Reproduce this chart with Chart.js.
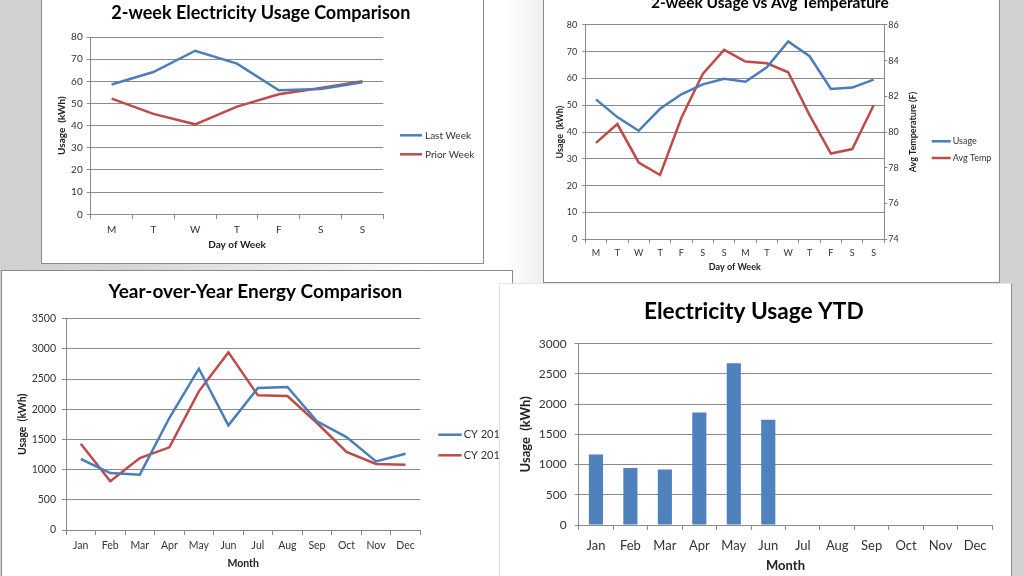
<!DOCTYPE html>
<html>
<head>
<meta charset="utf-8">
<title>Electricity usage charts</title>
<script src="https://cdn.jsdelivr.net/npm/chart.js@4.4.1/dist/chart.umd.min.js"></script>
<style>
  html, body { margin: 0; padding: 0; }
  body {
    width: 1024px; height: 576px; overflow: hidden; position: relative;
    background: linear-gradient(to right, #d1d1d1 0px, #d4d4d4 120px, #ffffff 430px, #ffffff 505px, #efefef 543px, #efefef 998px, #d1d1d1 999px);
  }
  .panel { position: absolute; box-sizing: border-box; border: 1px solid #8a8a8a; background: #fff; }
  .panel canvas { display: block; }
  #p4 { border-color: #e4e4e4 #8a8a8a #8a8a8a #e4e4e4; z-index: 2; }
</style>
</head>
<body>
<div class="panel" id="p1" style="left:41px;top:-1px;width:443px;height:265px"><canvas id="c1" width="441" height="263"></canvas></div>
<div class="panel" id="p2" style="left:543px;top:-20px;width:457px;height:303px"><canvas id="c2" width="455" height="301"></canvas></div>
<div class="panel" id="p3" style="left:1px;top:270px;width:512px;height:320px"><canvas id="c3" width="510" height="309"></canvas></div>
<div class="panel" id="p4" style="left:499px;top:283px;width:513px;height:310px"><canvas id="c4" width="511" height="300"></canvas></div>

<script>
// ——— DATA ———
const days = ['M', 'T', 'W', 'T', 'F', 'S', 'S'];
const lastWeek = [58.6, 64.2, 73.8, 68, 56, 56.5, 59.6];
const priorWeek = [52.2, 45.3, 40.6, 48.6, 54.2, 57, 60];

const days2wk = ['M', 'T', 'W', 'T', 'F', 'S', 'S', 'M', 'T', 'W', 'T', 'F', 'S', 'S'];
const usage2wk = [52.2, 45.6, 40.5, 48.7, 54.1, 57.8, 59.9, 58.8, 64.2, 73.8, 68.3, 56.1, 56.6, 59.6];
const avgTemp = [79.4, 80.45, 78.3, 77.6, 80.8, 83.25, 84.6, 83.95, 83.85, 83.35, 80.95, 78.8, 79.05, 81.5];

const months = ['Jan', 'Feb', 'Mar', 'Apr', 'May', 'Jun', 'Jul', 'Aug', 'Sep', 'Oct', 'Nov', 'Dec'];
const cy2014 = [1176, 944, 916, 1855, 2672, 1733, 2352, 2368, 1800, 1540, 1137, 1264];
const cy2013 = [1430, 806, 1192, 1369, 2297, 2942, 2230, 2219, 1772, 1292, 1093, 1082];
const ytd = [1167, 942, 920, 1861, 2676, 1740, null, null, null, null, null, null];

// ——— STYLE ———
const BLUE = '#4a7ebb', RED = '#be4b48', BAR = '#4f81bd', GRID = '#8a8a8a', INK = '#333';
Chart.defaults.font.family = 'Lato';
Chart.defaults.color = INK;
Chart.defaults.animation = false;

function font(size, bold) { return { family: 'Lato', size: size, weight: bold ? 'bold' : 'normal' }; }

// keep the title centred on the whole canvas, not just left of the legend gap
const centerTitle = {
    id: 'centerTitle',
    afterLayout(chart) {
        const t = chart.titleBlock;
        if (!t) return;
        t.left = 0;
        t.right = chart.width - 3.4;
        t.width = t.right - t.left;
    }
};
Chart.register(centerTitle);

// legend drawn as short line + label, Excel style
const lineLegend = {
    id: 'lineLegend',
    afterDraw(chart, args, o) {
        const ctx = chart.ctx;
        ctx.save();
        ctx.font = o.font;
        ctx.textBaseline = 'middle';
        ctx.fillStyle = INK;
        chart.data.datasets.forEach((ds, i) => {
            const y = o.y + i * o.step;
            ctx.strokeStyle = ds.borderColor;
            ctx.lineWidth = ds.borderWidth;
            ctx.beginPath();
            ctx.moveTo(o.x, y);
            ctx.lineTo(o.x + o.len, y);
            ctx.stroke();
            ctx.fillText(ds.label, o.x + o.len + o.gap, y);
        });
        ctx.restore();
    }
};

// right axis title reading bottom-to-top
const sideTitle = {
    id: 'sideTitle',
    afterDraw(chart, args, o) {
        const s = chart.scales[o.scale];
        const ctx = chart.ctx;
        ctx.save();
        ctx.translate(s.right - o.inset, (s.top + s.bottom) / 2);
        ctx.rotate(-Math.PI / 2);
        ctx.font = o.font;
        ctx.fillStyle = '#222';
        ctx.textAlign = 'center';
        ctx.textBaseline = 'middle';
        ctx.fillText(o.text, 0, 0);
        ctx.restore();
    }
};

function catAxis(o) {
    return {
        type: 'category', offset: true,
        afterFit: s => { s.height = o.h; },
        grid: { offset: true, drawOnChartArea: false, color: GRID, tickLength: o.tick },
        border: { color: GRID },
        ticks: { font: font(o.fs), padding: o.pad, color: INK, maxRotation: 0, autoSkip: false },
        title: { display: true, text: o.title, font: font(o.tfs, true), color: '#222', padding: { top: 0, bottom: o.tpad } }
    };
}

function valAxis(o) {
    return {
        min: o.min, max: o.max, position: o.pos || 'left',
        afterFit: s => { s.width = o.w; },
        grid: { color: GRID, tickLength: o.tick, drawOnChartArea: o.onArea !== false },
        border: { color: GRID },
        ticks: { stepSize: o.step, font: font(o.fs), padding: o.pad, color: INK, callback: v => v },
        title: { display: !!o.title, text: o.title || '', font: font(o.tfs || 10, true), color: '#222', padding: { top: o.tpad || 0, bottom: 0 } }
    };
}

function lineSet(label, data, color, axis) {
    return { label: label, data: data, borderColor: color, backgroundColor: color, borderWidth: 2.5, yAxisID: axis || 'y' };
}

const common = {
    responsive: false,
    elements: { point: { radius: 0 }, line: { tension: 0 } }
};

// ——— 2-WEEK COMPARISON ———
new Chart(document.getElementById('c1'), {
    type: 'line',
    data: { labels: days, datasets: [lineSet('Last Week', lastWeek, BLUE), lineSet('Prior Week', priorWeek, RED)] },
    options: {
        ...common,
        layout: { padding: { left: 0, right: 99.7, top: 0, bottom: 0 } },
        scales: {
            x: catAxis({ h: 48.7, tick: 5, pad: 4, fs: 10, title: 'Day of Week', tfs: 10, tpad: 12 }),
            y: valAxis({ min: 0, max: 80, step: 10, w: 48.7, tick: 4, pad: 4, fs: 10, title: 'Usage  (kWh)', tfs: 10, tpad: 14 })
        },
        plugins: {
            title: { display: true, text: '2-week Electricity Usage Comparison', font: font(18, true), color: '#000', padding: { top: 1.9, bottom: 13.5 } },
            legend: { display: false },
            tooltip: { enabled: false },
            lineLegend: { x: 358, y: 135.3, step: 19, len: 22, gap: 3, font: '10px Lato' }
        }
    },
    plugins: [lineLegend]
});

// ——— USAGE VS TEMPERATURE ———
new Chart(document.getElementById('c2'), {
    type: 'line',
    data: { labels: days2wk, datasets: [lineSet('Usage', usage2wk, BLUE), lineSet('Avg Temp', avgTemp, RED, 'y1')] },
    options: {
        ...common,
        layout: { padding: { left: 0, right: 78.7, top: 0, bottom: 0 } },
        scales: {
            x: catAxis({ h: 42.7, tick: 4, pad: 4.5, fs: 9, title: 'Day of Week', tfs: 9, tpad: 9.9 }),
            y: valAxis({ min: 0, max: 80, step: 10, w: 41.3, tick: 3, pad: 5, fs: 9, title: 'Usage  (kWh)', tfs: 9, tpad: 10.6 }),
            y1: valAxis({ min: 74, max: 86, step: 2, w: 36, tick: 3, pad: 1, fs: 9, pos: 'right', onArea: false })
        },
        plugins: {
            title: { display: true, text: '2-week Usage vs Avg Temperature', font: font(15.5, true), color: '#000', padding: { top: 13, bottom: 12.3 } },
            legend: { display: false },
            tooltip: { enabled: false },
            lineLegend: { x: 387.7, y: 160.3, step: 16.7, len: 19, gap: 2, font: '9px Lato' },
            sideTitle: { scale: 'y1', inset: 7.6, text: 'Avg Temperature (F)', font: 'bold 9px Lato' }
        }
    },
    plugins: [lineLegend, sideTitle]
});

// ——— YEAR OVER YEAR ———
new Chart(document.getElementById('c3'), {
    type: 'line',
    data: { labels: months, datasets: [lineSet('CY 2014', cy2014, BLUE), lineSet('CY 2013', cy2013, RED)] },
    options: {
        ...common,
        layout: { padding: { left: 0, right: 91.7, top: 0, bottom: 0 } },
        scales: {
            x: catAxis({ h: 50, tick: 5, pad: 4.5, fs: 10.5, title: 'Month', tfs: 10.5, tpad: 10.4 }),
            y: valAxis({ min: 0, max: 3500, step: 500, w: 64, tick: 4, pad: 6, fs: 10.5, title: 'Usage  (kWh)', tfs: 10.5, tpad: 14.4 })
        },
        plugins: {
            title: { display: true, text: 'Year-over-Year Energy Comparison', font: font(19, true), color: '#000', padding: { top: 9.6, bottom: 15.3 } },
            legend: { display: false },
            tooltip: { enabled: false },
            lineLegend: { x: 436.3, y: 163.7, step: 20.6, len: 23.4, gap: 2, font: '11px Lato' }
        }
    },
    plugins: [lineLegend]
});

// ——— YTD BARS ———
new Chart(document.getElementById('c4'), {
    type: 'bar',
    data: { labels: months, datasets: [{ label: 'Usage', data: ytd, backgroundColor: BAR, barPercentage: 0.41, categoryPercentage: 1 }] },
    options: {
        ...common,
        layout: { padding: { left: 0, right: 18.7, top: 0, bottom: 0 } },
        scales: {
            x: catAxis({ h: 59, tick: 5, pad: 7.8, fs: 13, title: 'Month', tfs: 13, tpad: 9.9 }),
            y: valAxis({ min: 0, max: 3000, step: 500, w: 78.7, tick: 4, pad: 8, fs: 12, title: 'Usage  (kWh)', tfs: 13, tpad: 18.5 })
        },
        plugins: {
            title: { display: true, text: 'Electricity Usage YTD', font: font(22.7, true), color: '#000', padding: { top: 14, bottom: 18.5 } },
            legend: { display: false },
            tooltip: { enabled: false }
        }
    }
});
</script>
</body>
</html>
